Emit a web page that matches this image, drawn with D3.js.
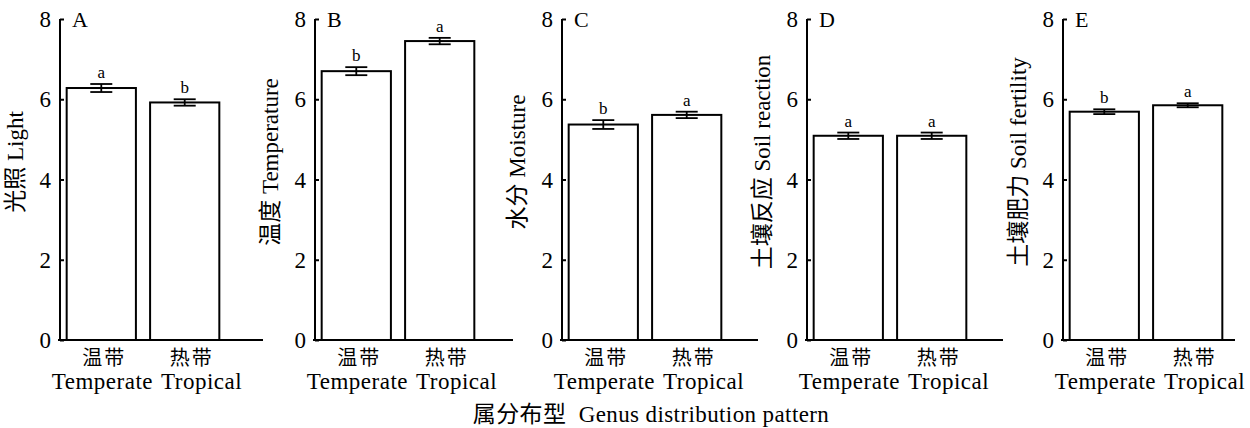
<!DOCTYPE html>
<html>
<head>
<meta charset="utf-8">
<script src="https://cdn.jsdelivr.net/npm/d3@7"></script>
<style>
  body { margin: 0; background: #fff; }
  svg text { font-family: "Liberation Serif", "Noto Sans CJK SC", serif; fill: #000; }
</style>
</head>
<body>
<div id="chart-area"></div>
<script>
// data
var categories = ['温带', '热带'];
var categoriesEn = ['Temperate', 'Tropical'];
var panelLetters = ['A', 'B', 'C', 'D', 'E'];
var yTitles = ['光照 Light', '温度 Temperature', '水分 Moisture', '土壤反应 Soil reaction', '土壤肥力 Soil fertility'];
var means = [[6.28, 5.92], [6.70, 7.45], [5.37, 5.61], [5.09, 5.09], [5.69, 5.85]];
var errors = [[0.10, 0.08], [0.10, 0.08], [0.11, 0.08], [0.08, 0.08], [0.06, 0.05]];
var sigLetters = [['a', 'b'], ['b', 'a'], ['b', 'a'], ['a', 'a'], ['b', 'a']];
var yTicks = [0, 2, 4, 6, 8];
var xTitle = '属分布型  Genus distribution pattern';

// layout (left axis x of every panel, length of its x axis)
var axisX = [60, 315, 562, 807, 1063];
var axisLen = [203, 198, 196, 196, 172];
var yTop = 19, yBottom = 340;

var svg = d3.select('#chart-area').append('svg')
    .attr('width', 1250)
    .attr('height', 428);

var y = d3.scaleLinear().domain([0, 8]).range([yBottom, yTop]);

means.forEach(function (vals, p) {
    var x0 = axisX[p];
    var g = svg.append('g');

    var x = d3.scaleBand()
        .domain(categories)
        .range([x0, x0 + 166])
        .paddingInner(0.17)
        .paddingOuter(0.08);

    // bars
    g.selectAll('rect').data(vals).enter().append('rect')
        .attr('x', function (d, i) { return x(categories[i]); })
        .attr('y', function (d) { return y(d); })
        .attr('width', x.bandwidth())
        .attr('height', function (d) { return y(0) - y(d); })
        .attr('fill', '#fff')
        .attr('stroke', '#000')
        .attr('stroke-width', 2);

    // error bars
    var cx = function (i) { return x(categories[i]) + x.bandwidth() / 2; };
    var eb = g.selectAll('.eb').data(vals).enter().append('g')
        .attr('stroke', '#000').attr('stroke-width', 1.8);
    eb.append('line')
        .attr('x1', function (d, i) { return cx(i); })
        .attr('x2', function (d, i) { return cx(i); })
        .attr('y1', function (d, i) { return y(d + errors[p][i]); })
        .attr('y2', function (d, i) { return y(d - errors[p][i]); });
    [1, -1].forEach(function (s) {
        eb.append('line')
            .attr('x1', function (d, i) { return cx(i) - 11; })
            .attr('x2', function (d, i) { return cx(i) + 11; })
            .attr('y1', function (d, i) { return y(d + s * errors[p][i]); })
            .attr('y2', function (d, i) { return y(d + s * errors[p][i]); });
    });

    // significance letters
    g.selectAll('.sig').data(vals).enter().append('text')
        .attr('x', function (d, i) { return cx(i); })
        .attr('y', function (d, i) { return y(d + errors[p][i]) - 6; })
        .attr('text-anchor', 'middle')
        .attr('font-size', 17)
        .text(function (d, i) { return sigLetters[p][i]; });

    // y axis, ticks pointing inward
    var yAxis = d3.axisRight(y).tickValues(yTicks).tickSize(4).tickFormat('');
    var ya = g.append('g').attr('transform', 'translate(' + x0 + ',0)').call(yAxis);
    ya.select('.domain').attr('stroke-width', 2).attr('d', 'M0,' + yTop + 'V' + yBottom);
    ya.selectAll('.tick line').attr('stroke-width', 2);

    g.selectAll('.ytl').data(yTicks).enter().append('text')
        .attr('x', x0 - 9)
        .attr('y', function (d) { return y(d) + 8; })
        .attr('text-anchor', 'end')
        .attr('font-size', 23)
        .text(function (d) { return d; });

    // x axis line
    g.append('line')
        .attr('x1', x0 - 2).attr('x2', x0 + axisLen[p])
        .attr('y1', yBottom).attr('y2', yBottom)
        .attr('stroke', '#000').attr('stroke-width', 2);

    // category labels
    var mid = (cx(0) + cx(1)) / 2;
    categories.forEach(function (c, i) {
        g.append('text').attr('x', cx(i) + (i ? 7 : 3)).attr('y', 365)
            .attr('text-anchor', 'middle').attr('font-size', 20)
            .attr('letter-spacing', 2).text(c);
        g.append('text').attr('x', i ? mid + 18 : mid + 10).attr('y', 389)
            .attr('text-anchor', i ? 'start' : 'end')
            .attr('font-size', 23).attr('letter-spacing', 0.5)
            .text(categoriesEn[i]);
    });

    // panel letter
    g.append('text').attr('x', x0 + 12).attr('y', 27)
        .attr('font-size', 22).text(panelLetters[p]);

    // y title
    g.append('text')
        .attr('transform', 'translate(' + (x0 - 37) + ',162) rotate(-90)')
        .attr('text-anchor', 'middle')
        .attr('font-size', 23)
        .text(yTitles[p]);
});

svg.append('text')
    .attr('x', 651).attr('y', 422)
    .attr('text-anchor', 'middle')
    .attr('font-size', 23)
    .attr('letter-spacing', 0.4)
    .attr('xml:space', 'preserve')
    .text(xTitle);
</script>
</body>
</html>
